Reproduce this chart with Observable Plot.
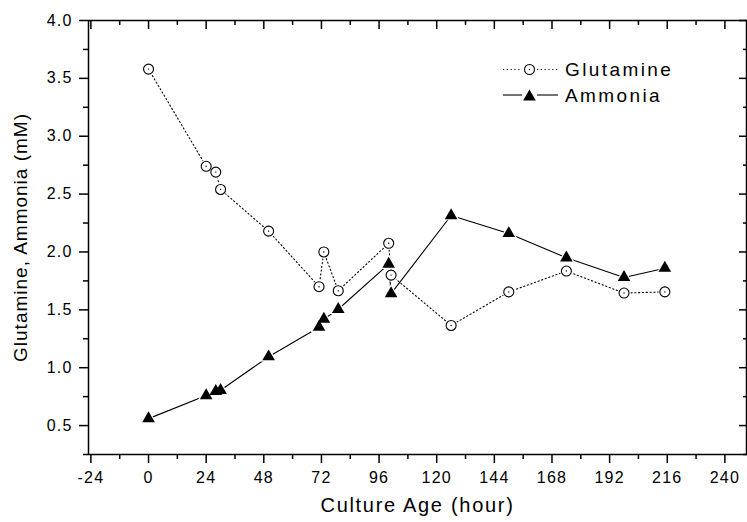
<!DOCTYPE html>
<html>
<head>
<meta charset="utf-8">
<script src="https://cdn.jsdelivr.net/npm/d3@7"></script>
<script src="https://cdn.jsdelivr.net/npm/@observablehq/plot@0.6"></script>
<style>
  html, body { margin: 0; padding: 0; background: #fff; }
  #wrap { position: relative; width: 747px; height: 522px; }
  #legend { position: absolute; left: 0; top: 0; pointer-events: none; }
</style>
</head>
<body>
<div id="wrap"></div>
<script>
// Data
const hours     = [0, 24, 28, 30, 50, 71, 73, 79, 100, 101, 126, 150, 174, 198, 215];
const glutamine = [3.58, 2.74, 2.69, 2.54, 2.18, 1.70, 2.00, 1.665, 2.075, 1.80, 1.365, 1.655, 1.835, 1.645, 1.655];
const ammonia   = [0.56, 0.76, 0.795, 0.805, 1.095, 1.35, 1.42, 1.505, 1.895, 1.64, 2.315, 2.16, 1.95, 1.78, 1.86];

const xMajor = [-24, 0, 24, 48, 72, 96, 120, 144, 168, 192, 216, 240];
const xMinor = [-12, 12, 36, 60, 84, 108, 132, 156, 180, 204, 228];
const yMajor = [0.5, 1.0, 1.5, 2.0, 2.5, 3.0, 3.5, 4.0];
const yMinor = [0.25, 0.75, 1.25, 1.75, 2.25, 2.75, 3.25, 3.75];

const seriesNames = ["Glutamine", "Ammonia"];
const xTitle = "Culture Age (hour)";
const yTitle = "Glutamine, Ammonia (mM)";

const glut = hours.map((t, i) => ({t, v: glutamine[i]}));
const amm = hours.map((t, i) => ({t, v: ammonia[i]}));

const FONT = 'Arial, "Liberation Sans", Helvetica, sans-serif';
const blank = () => "";
const sw = 1.5;

const chart = Plot.plot({
  width: 747,
  height: 522,
  marginLeft: 88,
  marginRight: 1,
  marginTop: 20,
  marginBottom: 68,
  style: {fontFamily: FONT, color: "black", background: "white"},
  x: {domain: [-25, 249], label: null},
  y: {domain: [0.25, 4.0], label: null},
  marks: [
    // axes
    Plot.axisY(yMajor, {anchor: "left", tickSize: 9, tickPadding: 7, tickFormat: d3.format(".1f"), fontSize: 16, strokeWidth: sw, label: null}),
    Plot.axisY(yMinor, {anchor: "left", tickSize: 5, tickFormat: blank, strokeWidth: sw, label: null}),
    Plot.axisY(yMajor, {anchor: "right", tickSize: -8, tickFormat: blank, strokeWidth: sw, label: null}),
    Plot.axisY(yMinor, {anchor: "right", tickSize: -4, tickFormat: blank, strokeWidth: sw, label: null}),
    Plot.axisX(xMajor, {anchor: "bottom", tickSize: 9, tickPadding: 8, tickFormat: d => String(d), fontSize: 16, strokeWidth: sw, label: null}),
    Plot.axisX(xMinor, {anchor: "bottom", tickSize: 5, tickFormat: blank, strokeWidth: sw, label: null}),
    Plot.axisX(xMajor, {anchor: "top", tickSize: -8, tickFormat: blank, strokeWidth: sw, label: null}),
    Plot.axisX(xMinor, {anchor: "top", tickSize: -4, tickFormat: blank, strokeWidth: sw, label: null}),
    Plot.frame({stroke: "black", strokeWidth: sw}),
    // titles
    Plot.text([xTitle], {text: d => d, frameAnchor: "bottom", textAnchor: "middle", dy: 57, fontSize: 20, fill: "black"}),
    Plot.text([yTitle], {text: d => d, frameAnchor: "left", textAnchor: "middle", rotate: -90, dx: -68, fontSize: 19, fill: "black"}),
    // lines
    Plot.line(glut, {x: "t", y: "v", stroke: "black", strokeWidth: 1.1, strokeDasharray: "1.2,2.6"}),
    Plot.line(amm, {x: "t", y: "v", stroke: "black", strokeWidth: 1.1}),
    // white halos to leave gaps around markers
    Plot.dot(glut, {x: "t", y: "v", r: 6.5, fill: "white"}),
    Plot.dot(amm, {x: "t", y: "v", r: 6.2, symbol: "triangle", fill: "white"}),
    // markers
    Plot.dot(glut, {x: "t", y: "v", r: 5, fill: "white", stroke: "black", strokeWidth: 1.1}),
    Plot.dot(glut, {x: "t", y: "v", r: 0.7, fill: "black"}),
    Plot.dot(amm, {x: "t", y: "v", r: 4.7, symbol: "triangle", fill: "black"})
  ]
});

const wrap = document.getElementById("wrap");
wrap.appendChild(chart);

// letter spacing to match the wide export typography
d3.select(chart).selectAll("text").each(function() {
  const s = this.textContent;
  const ls = s === xTitle ? 1.7 : s === yTitle ? 1 : 1.2;
  this.setAttribute("letter-spacing", ls + "px");
  this.style.letterSpacing = ls + "px";
});

// legend overlay
const leg = d3.select(wrap).append("svg").attr("id", "legend").attr("width", 747).attr("height", 522)
  .style("font-family", FONT);
const rows = [
  {name: seriesNames[0], cy: 69.5, dash: "1.2,2.6"},
  {name: seriesNames[1], cy: 95, dash: null}
];
rows.forEach((r, i) => {
  const g = leg.append("g");
  const l1 = g.append("line").attr("x1", 503).attr("x2", 522).attr("y1", r.cy).attr("y2", r.cy).attr("stroke", "black").attr("stroke-width", 1.1);
  const l2 = g.append("line").attr("x1", 537).attr("x2", 558).attr("y1", r.cy).attr("y2", r.cy).attr("stroke", "black").attr("stroke-width", 1.1);
  if (r.dash) { l1.attr("stroke-dasharray", r.dash); l2.attr("stroke-dasharray", r.dash); }
  if (i === 0) {
    g.append("circle").attr("cx", 529.5).attr("cy", r.cy).attr("r", 5).attr("fill", "white").attr("stroke", "black").attr("stroke-width", 1.1);
    g.append("circle").attr("cx", 529.5).attr("cy", r.cy).attr("r", 0.7).attr("fill", "black");
  } else {
    g.append("path").attr("d", d3.symbol(d3.symbolTriangle, 70)()).attr("transform", `translate(529.5,${r.cy + 1.8})`).attr("fill", "black");
  }
  g.append("text").attr("x", 565).attr("y", r.cy + 6.8).attr("font-size", 19).attr("letter-spacing", "2.4px").attr("fill", "black").text(r.name);
});
</script>
</body>
</html>
